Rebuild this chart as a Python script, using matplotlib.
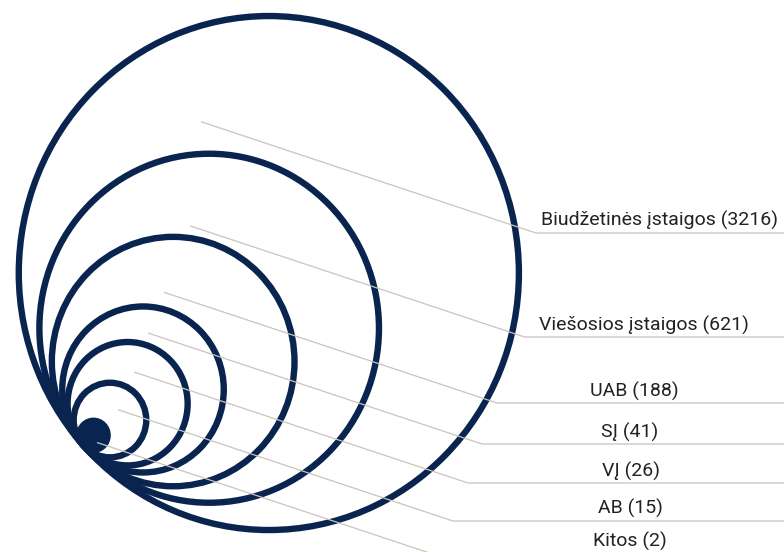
import numpy as np
import matplotlib
matplotlib.use("Agg")
import matplotlib.pyplot as plt
from matplotlib.patches import Ellipse

# ---- data ----
categories = ["Biudžetinės įstaigos", "Viešosios įstaigos", "UAB", "SĮ", "VĮ", "AB", "Kitos"]
values = [3216, 621, 188, 41, 26, 15, 2]

# ---- layout (pixel units, y downwards) ----
circle_radius = [257, 174.5, 124.7, 83, 61.7, 37.3, 14.5]   # visual ring sizes
tangent_point = (83.0, 445.0)
tangent_angle = np.deg2rad(42.0)
x_squash = 0.973
rule_y = [232.7, 336.8, 403.3, 444.0, 483.0, 520.7, 553.5]
elbow_x = [535, 524, 498, 482, 468, 452, 431]
leader_vec = (334, 111)
label_x = [541, 539, 634, 630, 631, 630, 630]
label_ha = ["left", "left", "center", "center", "center", "center", "center"]

navy = "#0a2450"
leader_col = "#c9c4bc"
rule_col = "#d2cdc6"
text_col = "#222222"

fig = plt.figure(figsize=(7.84, 5.52), dpi=100)
ax = fig.add_axes([0, 0, 1, 1])
ax.set_xlim(0, 784)
ax.set_ylim(552, 0)
ax.axis("off")

ux = np.cos(tangent_angle) * x_squash
uy = -np.sin(tangent_angle)
for i, r in enumerate(circle_radius):
    cx = tangent_point[0] + r * ux
    cy = tangent_point[1] + r * uy
    filled = i == len(circle_radius) - 1
    e = Ellipse((cx, cy), 2 * r * x_squash, 2 * r,
                facecolor=navy if filled else "none",
                edgecolor=navy, lw=4.6, zorder=2)
    ax.add_patch(e)

for cat, val, ry, ex, lx, ha in zip(categories, values, rule_y, elbow_x, label_x, label_ha):
    sx, sy = ex - leader_vec[0], ry - leader_vec[1]
    ax.plot([sx, ex], [sy, ry], color=leader_col, lw=0.9, zorder=3, solid_capstyle="butt")
    ax.plot([ex, 784], [ry, ry], color=rule_col, lw=1.1, zorder=3, solid_capstyle="butt")
    ax.text(lx, ry - 6.5, f"{cat} ({val})", ha=ha, va="baseline",
            fontsize=14, family=["Roboto", "DejaVu Sans"], color=text_col, zorder=4)

fig.savefig("out.png", dpi=100)
